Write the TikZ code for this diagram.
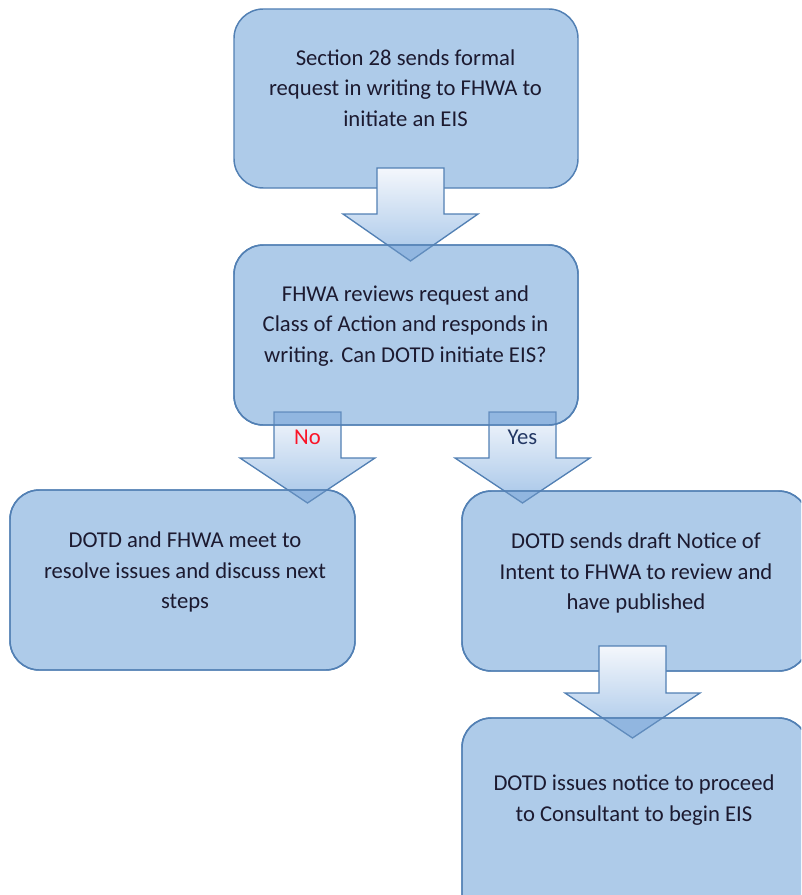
\documentclass[tikz,border=0pt]{standalone}
\usepackage{fontspec}
\setmainfont{Carlito}
\usetikzlibrary{fit}
\definecolor{boxfill}{RGB}{174,203,233}
\definecolor{boxline}{RGB}{82,128,180}
\definecolor{arrtop}{RGB}{244,247,252}
\definecolor{arrbot}{RGB}{165,197,232}
\definecolor{overlap}{RGB}{110,158,214}
\definecolor{txt}{RGB}{28,26,48}
\definecolor{yescol}{RGB}{35,55,100}
\definecolor{nocol}{RGB}{250,20,40}
\tikzset{
  flowbox/.style={draw=boxline, line width=1.1pt, fill=boxfill, rounded corners=22pt, inner sep=0pt},
  blockarr/.style={draw=boxline, line width=1pt, top color=arrtop, bottom color=arrbot},
  overarr/.style={draw=boxline, draw opacity=0.8, line width=1pt, fill=overlap, fill opacity=0.45},
  boxedge/.style={draw=boxline, line width=1.1pt, rounded corners=22pt},
  boxtext/.style={font=\fontsize{17}{23}\selectfont, align=center, text=txt},
  armlabel/.style={font=\fontsize{17}{23}\selectfont}
}
% cx, top, shoulder, tip, style
\newcommand\blockarrow[5]{%
  \path[#5] ({#1-33.5},#2) -- ({#1+33.5},#2) -- ({#1+33.5},#3) -- ({#1+67.5},#3)
    -- (#1,#4) -- ({#1-67.5},#3) -- ({#1-33.5},#3) -- cycle;}
\begin{document}
\begin{tikzpicture}[x=0.75pt,y=-0.75pt]
\useasboundingbox (0,0) rectangle (801,895);
\clip (0,0) rectangle (801,895);
\fill[white] (0,0) rectangle (801,895);
% box 1 and the arrows leaving it / box 2
\node[flowbox, fit={(234,9) (578,188)}] (b1) {};
\blockarrow{410.5}{168}{214}{261}{blockarr}
\blockarrow{307.5}{412}{458}{503}{blockarr}
\blockarrow{522.5}{412}{458}{503}{blockarr}
% box 2
\node[flowbox, fit={(234,245) (578,425)}] (b2) {};
\begin{scope}
  \clip[rounded corners=22pt] (234,245) rectangle (578,425);
  \blockarrow{410.5}{168}{214}{261}{overarr}
  \blockarrow{307.5}{412}{458}{503}{overarr}
  \blockarrow{522.5}{412}{458}{503}{overarr}
\end{scope}
\path[boxedge] (234,245) rectangle (578,425);
% box 3, box 4
\node[flowbox, fit={(10,490) (355,670)}] (b3) {};
\node[flowbox, fit={(462,491) (808,671)}] (b4) {};
\begin{scope}
  \clip[rounded corners=22pt] (10,490) rectangle (355,670);
  \blockarrow{307.5}{412}{458}{503}{overarr}
\end{scope}
\path[boxedge] (10,490) rectangle (355,670);
\begin{scope}
  \clip[rounded corners=22pt] (462,491) rectangle (808,671);
  \blockarrow{522.5}{412}{458}{503}{overarr}
\end{scope}
\path[boxedge] (462,491) rectangle (808,671);
\blockarrow{632.5}{646}{693}{738}{blockarr}
% box 5
\node[flowbox, fit={(462,718) (808,935)}] (b5) {};
\begin{scope}
  \clip[rounded corners=22pt] (462,718) rectangle (808,935);
  \blockarrow{632.5}{646}{693}{738}{overarr}
\end{scope}
\path[boxedge] (462,718) rectangle (808,935);
% texts
\node[boxtext] (t1) at (405.5,88) {Section 28 sends formal\\request in writing to FHWA to\\initiate an EIS};
\node[boxtext] (t2) at (405.5,326) {FHWA reviews request and\\Class of Action and responds in\\writing. Can DOTD initiate EIS?};
\node[boxtext] (t3) at (185,572) {DOTD and FHWA meet to\\resolve issues and discuss next\\steps};
\node[boxtext] (t4) at (636,573) {DOTD sends draft Notice of\\Intent to FHWA to review and\\have published};
\node[boxtext] (t5) at (634,800) {DOTD issues notice to proceed\\to Consultant to begin EIS};
\node[armlabel, text=nocol] (lno) at (307.5,437) {No};
\node[armlabel, text=yescol] (lyes) at (522.5,437) {Yes};
\end{tikzpicture}
\end{document}
